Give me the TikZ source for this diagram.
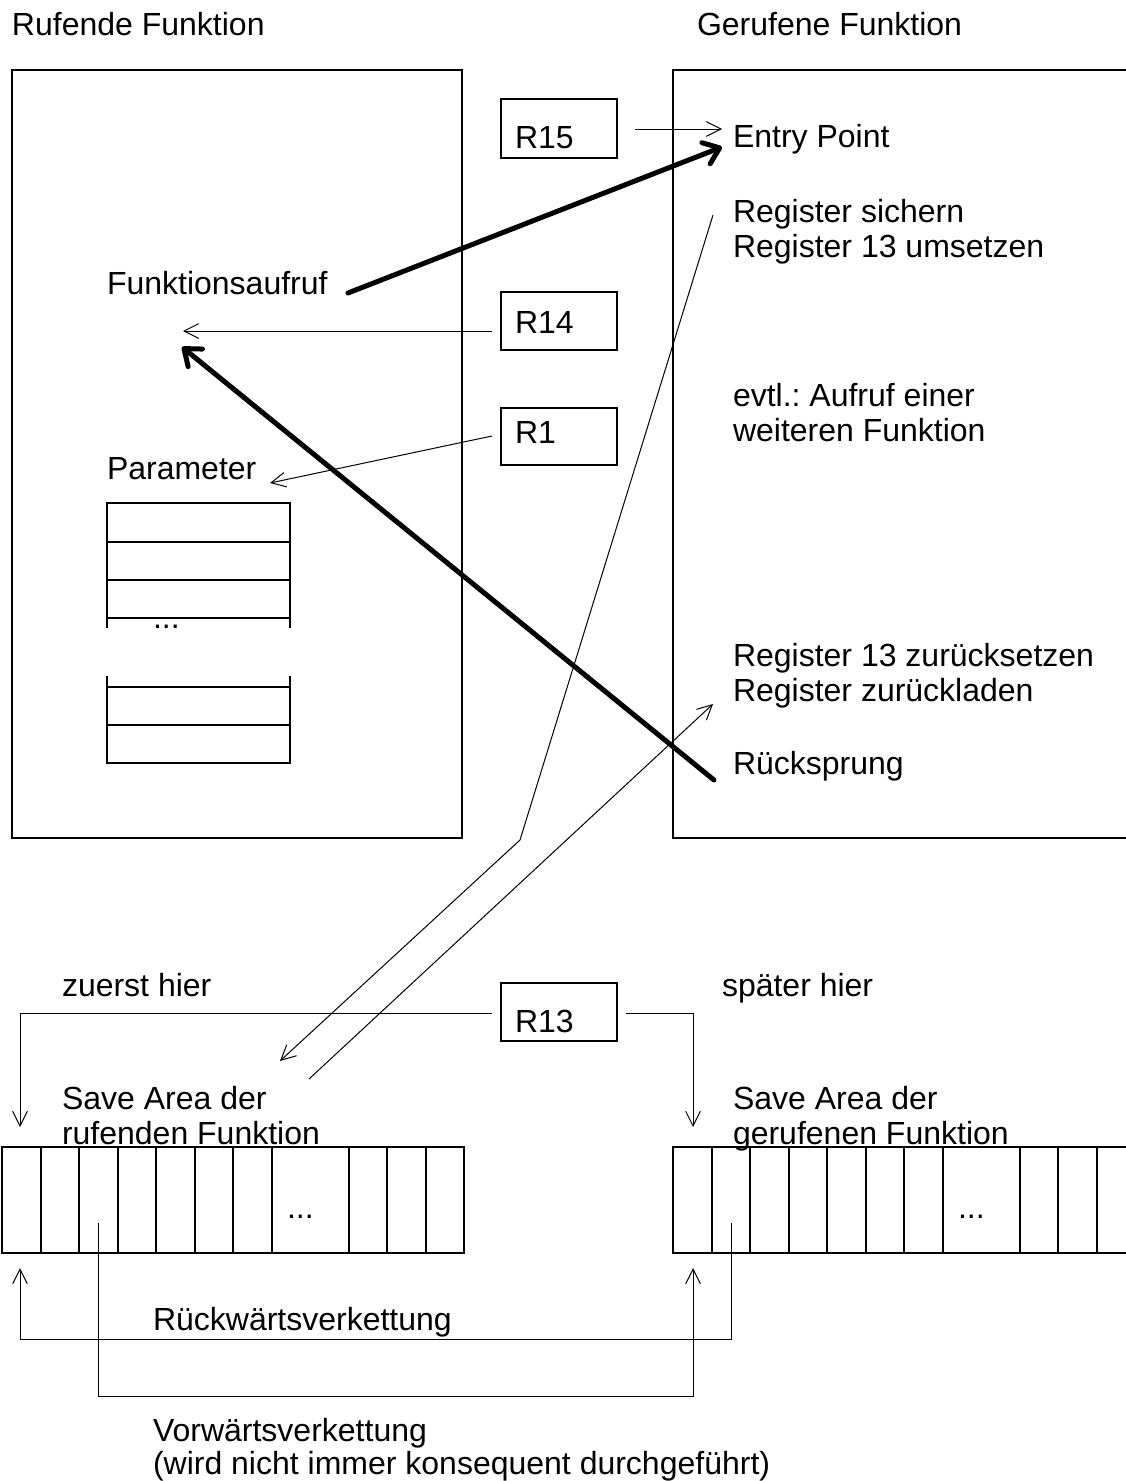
\documentclass[tikz,border=0pt]{standalone}
\usepackage{fontspec}
\setmainfont{Liberation Sans}
\usetikzlibrary{arrows.meta,fit}
\frenchspacing
\begin{document}
\begin{tikzpicture}[x=0.75pt,y=-0.75pt,
  txt/.style={anchor=base west,inner sep=0,outer sep=0,font=\fontsize{24}{26}\selectfont},
  bigbox/.style={draw,line width=1.5pt,inner sep=0},
  regbox/.style={draw,line width=1.5pt,inner sep=0},
  cellline/.style={line width=1.5pt},
  thinarrow/.style={line width=0.75pt,-{Straight Barb[length=11pt,width=11pt,line width=0.75pt]}},
  thickarrow/.style={line width=3.75pt,line cap=round,-{Straight Barb[length=11pt,width=17pt,line width=3.75pt,round]}},
  thinline/.style={line width=0.75pt}]
\useasboundingbox (0,0) rectangle (1125,1481);
% titles
\node[txt] (t1) at (12,35) {Rufende Funktion};
\node[txt] (t2) at (697,35) {Gerufene Funktion};
% big boxes
\coordinate (lb1) at (12,70); \coordinate (lb2) at (462,838);
\node[bigbox,fit=(lb1)(lb2)] (leftbox) {};
\coordinate (rb1) at (673,70); \coordinate (rb2) at (1140,838);
\node[bigbox,fit=(rb1)(rb2)] (rightbox) {};
% register boxes
\coordinate (a1) at (501,99); \coordinate (a2) at (617,158);
\node[regbox,fit=(a1)(a2)] (r15box) {};
\node[txt] (r15) at (515,148) {R15};
\coordinate (b1) at (501,292); \coordinate (b2) at (617,350);
\node[regbox,fit=(b1)(b2)] (r14box) {};
\node[txt] (r14) at (515,333) {R14};
\coordinate (c1) at (501,408); \coordinate (c2) at (617,465);
\node[regbox,fit=(c1)(c2)] (r1box) {};
\node[txt] (r1) at (515,443) {R1};
\coordinate (d1) at (501,983); \coordinate (d2) at (617,1041);
\node[regbox,fit=(d1)(d2)] (r13box) {};
\node[txt] (r13) at (515,1032) {R13};
% texts right
\node[txt] (entry) at (733,147) {Entry Point};
\node[txt] (regs1) at (733,222) {Register sichern};
\node[txt] (regs2) at (733,257) {Register 13 umsetzen};
\node[txt] (evtl1) at (733,406) {evtl.: Aufruf einer};
\node[txt] (evtl2) at (733,441) {weiteren Funktion};
\node[txt] (rz1) at (733,666) {Register 13 zurücksetzen};
\node[txt] (rz2) at (733,701) {Register zurückladen};
\node[txt] (rs) at (733,774) {Rücksprung};
% texts left
\node[txt] (fa) at (107,294) {Funktionsaufruf};
\node[txt] (par) at (107,479) {Parameter};
% parameter table
\draw[cellline] (107,628) -- (107,503) -- (290,503) -- (290,628);
\foreach \yy in {542,580,618} \draw[cellline] (107,\yy) -- (290,\yy);
\node[txt] (pdots) at (153,628) {...};
\draw[cellline] (107,676) -- (107,763) -- (290,763) -- (290,676);
\draw[cellline] (107,687) -- (290,687);
\draw[cellline] (107,725) -- (290,725);
% arrows in the upper part
\coordinate (r15s) at (635,129); \coordinate (r15e) at (722,129);
\draw[thinarrow] (r15s) -- (r15e);
\coordinate (fas) at (348,293); \coordinate (fae) at (722,147);
\draw[thickarrow] (fas) -- (fae);
\coordinate (r14s) at (492,331); \coordinate (r14e) at (183,331);
\draw[thinarrow] (r14s) -- (r14e);
\coordinate (r1s) at (492,436); \coordinate (r1e) at (270,483);
\draw[thinarrow] (r1s) -- (r1e);
\coordinate (rss) at (714,780); \coordinate (rse) at (182,347);
\draw[thickarrow] (rss) -- (rse);
% save area paths
\coordinate (sv1) at (713,215); \coordinate (svk) at (520,840); \coordinate (sv2) at (280,1061);
\draw[thinarrow] (sv1) -- (svk) -- (sv2);
\coordinate (ld1) at (309,1079); \coordinate (ld2) at (713,704);
\draw[thinarrow] (ld1) -- (ld2);
% R13 lines
\coordinate (zl1) at (492,1013); \coordinate (zl2) at (20,1013); \coordinate (zl3) at (20,1127);
\draw[thinarrow] (zl1) -- (zl2) -- (zl3);
\coordinate (sl1) at (626,1013); \coordinate (sl2) at (693,1013); \coordinate (sl3) at (693,1127);
\draw[thinarrow] (sl1) -- (sl2) -- (sl3);
\node[txt] (zh) at (62,996) {zuerst hier};
\node[txt] (sh) at (722,996) {später hier};
\node[txt] (sa1) at (62,1109) {Save Area der};
\node[txt] (sa2) at (62,1144) {rufenden Funktion};
\node[txt] (sb1) at (733,1109) {Save Area der};
\node[txt] (sb2) at (733,1144) {gerufenen Funktion};
% arrays
\foreach \ox in {0,671} {
  \draw[cellline] (2+\ox,1147) rectangle (464+\ox,1253);
  \foreach \cx in {40.5,79,117.5,156,194.5,233,271.5,348.5,387,425.5}
    \draw[cellline] (\cx+\ox,1147) -- (\cx+\ox,1253);
}
\node[txt] (ad1) at (287,1218) {...};
\node[txt] (ad2) at (958,1218) {...};
% chaining
\coordinate (rw1) at (731,1223); \coordinate (rw2) at (731,1339); \coordinate (rw3) at (20,1339); \coordinate (rw4) at (20,1268);
\draw[thinarrow] (rw1) -- (rw2) -- (rw3) -- (rw4);
\coordinate (vw1) at (98,1223); \coordinate (vw2) at (98,1396); \coordinate (vw3) at (693,1396); \coordinate (vw4) at (693,1268);
\draw[thinarrow] (vw1) -- (vw2) -- (vw3) -- (vw4);
\node[txt] (rwt) at (153,1330) {Rückwärtsverkettung};
\node[txt] (vwt) at (153,1441) {Vorwärtsverkettung};
\node[txt] (vwt2) at (153,1474) {(wird nicht immer konsequent durchgeführt)};
\end{tikzpicture}
\end{document}
